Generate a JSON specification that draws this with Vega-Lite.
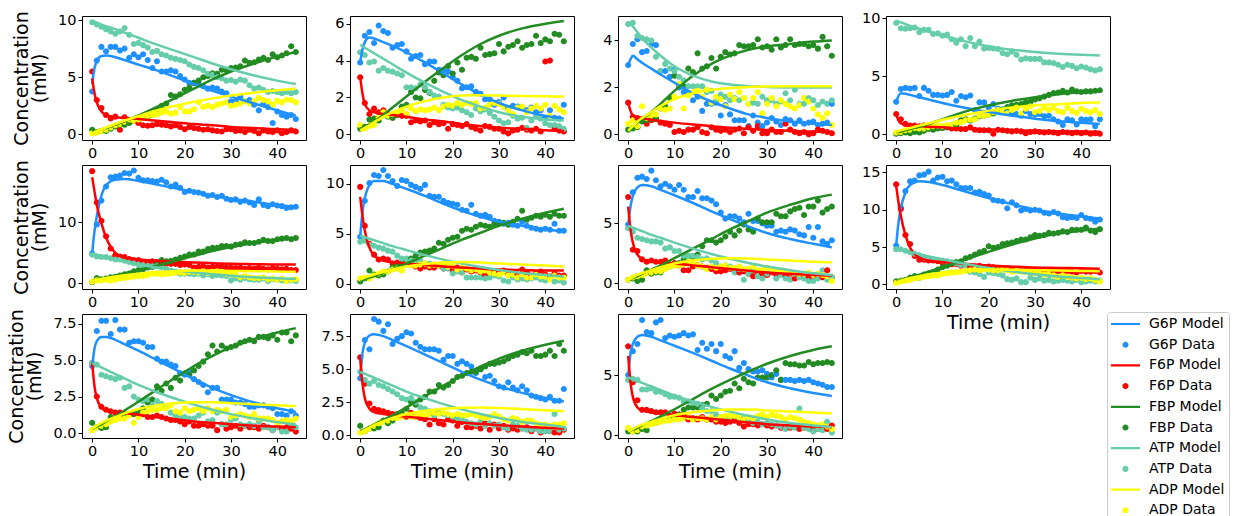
{
"$schema":"https://vega.github.io/schema/vega-lite/v6.json",
"padding":{"left":7,"top":9,"right":0,"bottom":0},
"datasets":{
"obs":[
{"p":1,"t":[0,1,2,3,4,5,6,7,8,9,10,11,12,13,14,15,16,17,18,19,20,21,22,23,24,25,26,27,28,29,30,31,32,33,34,35,36,37,38,39,40,41,42,43,44],
"G6P Data":[3.75,6.45,7.65,7.27,7.65,7.65,7.33,7.5,6.7,7.0,6.74,7.0,6.5,5.8,6.4,5.5,5.5,5.6,5.5,5.1,4.8,4.5,4.5,4.4,4.2,4.0,4.1,4.0,3.75,3.6,2.9,2.9,3.3,2.9,3.0,2.6,2.1,2.7,2.4,1.0,2.0,1.7,1.55,1.7,1.35],
"F6P Data":[5.5,3.0,2.3,1.7,1.4,1.55,0.4,1.5,1.2,1.2,1.0,0.8,0.75,0.8,0.9,0.85,0.8,0.7,0.8,0.65,0.45,0.65,0.55,0.5,0.4,0.45,0.35,0.3,0.25,0.45,0.45,0.3,0.35,0.2,0.4,0.3,0.1,0.35,0.25,0.2,0.35,0.1,0.2,0.35,0.25],
"FBP Data":[0.4,0.2,0.3,0.3,0.5,0.7,0.85,0.85,1.0,1.2,1.35,1.5,1.55,1.7,2.2,2.5,2.7,3.45,3.3,3.5,3.9,4.1,4.5,4.7,5.0,5.1,5.35,5.3,5.65,5.6,5.8,5.85,5.95,6.45,6.25,6.3,6.55,6.7,6.5,7.0,6.75,6.9,7.1,7.7,7.2],
"ATP Data":[9.8,9.6,9.4,9.2,9.0,8.8,9.0,9.3,8.7,7.9,8.0,7.8,7.6,7.2,7.3,7.0,6.9,6.7,6.6,6.5,6.4,6.1,5.9,5.8,5.6,5.3,5.2,5.0,4.9,4.7,4.75,4.6,4.8,4.7,4.3,4.0,4.1,3.9,3.7,3.8,3.7,3.6,3.7,3.6,3.7],
"ADP Data":[0.1,0.15,0.3,0.4,0.6,0.8,0.9,1.1,1.3,1.2,1.3,1.5,1.6,1.7,1.75,1.9,2.0,1.8,1.9,2.4,2.0,2.0,2.2,2.8,2.4,2.5,2.4,2.6,2.7,2.8,2.5,2.6,2.7,2.9,2.7,2.9,3.2,3.0,2.9,2.6,2.95,2.8,3.05,3.0,2.8]},
{"p":2,"t":[0,1,2,3,4,5,6,7,8,9,10,11,12,13,14,15,16,17,18,19,20,21,22,23,24,25,26,27,28,29,30,31,32,33,34,35,36,37,38,39,40,41,42,43,44],
"G6P Data":[3.9,5.35,5.55,4.95,5.9,5.6,5.5,4.7,4.85,4.9,4.5,4.1,4.25,4.3,3.8,3.95,3.95,3.5,3.5,3.4,3.1,2.9,2.5,2.55,2.6,2.3,2.2,1.9,1.9,1.6,1.75,2.0,1.4,1.55,1.5,1.45,1.3,1.45,1.2,1.3,0.9,1.3,0.9,0.85,1.6],
"F6P Data":[3.1,1.7,1.1,1.4,1.2,1.3,1.1,0.9,1.05,1.0,1.0,0.65,0.75,0.7,0.75,0.5,0.65,0.55,0.6,0.3,0.55,0.5,0.45,0.55,0.4,0.3,0.2,0.45,0.4,0.3,0.3,0.15,0.05,0.2,0.25,0.35,0.25,0.2,0.3,0.15,3.95,4.0,0.3,0.2,0.15],
"FBP Data":[0.3,0.4,0.8,0.85,0.75,1.2,0.95,0.9,1.05,1.5,1.6,2.3,2.0,1.95,2.4,2.25,2.9,3.35,3.2,3.7,3.3,3.9,3.5,4.15,4.2,4.1,4.7,4.3,4.35,4.4,4.9,4.5,4.75,4.85,5.05,4.7,4.85,4.9,5.35,4.95,5.15,5.05,5.45,5.4,5.05],
"ATP Data":[4.45,4.3,3.9,3.95,3.45,3.6,3.45,3.4,3.3,3.2,2.55,2.55,2.5,2.7,2.55,2.3,2.1,2.05,1.6,1.45,1.4,1.45,1.3,1.2,1.05,1.4,1.25,1.35,1.15,0.95,0.75,0.6,0.65,1.0,0.85,0.9,0.35,0.75,1.0,0.85,0.6,0.5,0.5,0.45,0.3],
"ADP Data":[0.5,0.3,0.45,0.5,0.9,1.2,1.0,1.1,1.2,1.3,1.1,1.4,1.25,1.35,1.3,1.35,1.45,1.3,1.5,1.6,1.55,1.7,1.6,1.7,1.65,1.7,1.4,1.45,1.6,1.7,1.65,1.5,1.3,1.1,1.45,1.5,1.2,1.4,1.55,1.4,1.6,1.0,1.55,1.35,1.2]},
{"p":3,"t":[0,1,2,3,4,5,6,7,8,9,10,11,12,13,14,15,16,17,18,19,20,21,22,23,24,25,26,27,28,29,30,31,32,33,34,35,36,37,38,39,40,41,42,43,44],
"G6P Data":[2.95,3.85,4.05,3.5,3.55,3.85,3.8,2.7,2.7,2.45,2.75,2.0,1.8,1.75,1.45,1.6,1.0,1.3,1.3,1.35,0.8,1.25,0.85,0.6,0.6,0.6,0.35,0.8,0.5,0.35,0.5,0.7,0.55,0.4,0.65,0.6,0.45,0.6,0.45,0.5,0.55,0.4,0.45,0.5,1.3],
"F6P Data":[1.35,0.75,0.7,0.65,0.45,0.6,0.65,0.5,0.45,0.4,0.1,0.15,0.1,0.2,0.2,0.3,0.1,0.05,0.3,0.2,0.15,0.2,0.1,0.2,0.25,0.05,0.3,0.15,0.35,0.05,0.05,0.2,0.1,0.1,0.45,0.2,0.1,0.05,0.1,0.0,0.05,0.2,0.15,0.1,0.05],
"FBP Data":[0.2,0.25,0.3,0.55,0.6,0.65,0.65,1.1,1.2,1.55,2.5,2.1,2.05,2.8,2.65,3.45,2.8,2.9,3.25,2.8,3.3,3.5,3.4,3.45,3.8,3.75,3.75,3.8,4.05,3.7,3.75,3.6,4.05,3.7,3.8,4.05,3.8,3.85,3.85,3.75,3.8,3.65,4.15,3.75,3.35],
"ATP Data":[4.7,4.75,4.2,4.1,4.05,4.0,3.3,2.7,3.0,2.8,2.7,2.45,2.3,2.05,2.05,2.05,2.05,1.8,1.85,1.45,1.7,1.6,1.45,1.55,1.45,1.55,1.3,1.35,1.3,1.6,1.45,1.45,1.3,1.4,1.75,1.45,1.9,1.3,1.3,1.55,1.45,1.25,1.4,1.3,1.45],
"ADP Data":[0.45,0.6,0.35,1.2,0.7,0.8,0.85,1.1,1.05,1.1,1.6,2.15,1.1,1.65,1.8,1.85,1.6,1.9,1.35,1.6,1.5,1.2,1.7,1.5,1.8,1.55,1.3,1.55,1.8,0.9,1.3,1.55,1.2,1.45,1.3,1.2,1.1,1.25,1.55,1.4,1.1,0.85,0.7,0.9,0.4]},
{"p":4,"t":[0,1,2,3,4,5,6,7,8,9,10,11,12,13,14,15,16,17,18,19,20,21,22,23,24,25,26,27,28,29,30,31,32,33,34,35,36,37,38,39,40,41,42,43,44],
"G6P Data":[2.8,3.9,4.0,3.95,4.0,3.3,4.0,3.75,3.4,3.4,3.35,3.4,3.65,2.9,3.3,3.2,3.35,2.1,2.75,2.75,2.3,2.6,2.2,2.15,2.0,1.8,1.75,1.6,2.0,1.75,1.7,1.75,1.55,1.6,1.3,1.1,0.8,1.3,1.2,0.85,1.3,1.25,1.3,0.7,1.3],
"F6P Data":[1.75,1.3,0.9,0.75,0.75,0.7,0.75,0.7,0.6,0.55,0.55,0.6,0.5,0.5,0.45,0.45,0.6,0.4,0.35,0.35,0.35,0.05,0.4,0.35,0.3,0.25,0.3,0.25,0.1,0.2,0.25,0.2,0.15,0.2,0.15,0.1,0.2,0.15,0.1,0.15,0.1,0.15,0.05,0.1,0.05],
"FBP Data":[0.05,0.1,0.15,0.1,0.2,0.15,0.3,0.45,0.4,0.5,0.55,0.65,0.7,0.75,1.2,1.3,1.2,1.35,1.55,1.6,1.7,1.8,2.0,2.1,2.35,2.5,2.55,2.6,2.75,2.8,3.0,3.1,3.25,3.4,3.55,3.6,3.75,3.6,3.85,3.7,3.65,3.7,3.7,3.75,3.8],
"ATP Data":[9.6,9.15,9.1,9.15,9.2,8.8,9.0,9.0,8.65,8.7,8.5,8.6,8.2,7.9,8.2,7.6,8.3,7.6,8.0,7.4,7.45,7.4,7.35,7.0,6.9,7.15,6.85,6.45,6.55,6.5,6.5,6.5,6.2,6.2,6.15,6.0,5.8,6.0,5.9,5.7,5.85,5.75,5.6,5.5,5.6],
"ADP Data":[0.15,0.2,0.35,0.4,0.55,0.5,0.5,0.6,0.7,0.75,0.7,0.8,0.85,1.0,1.05,1.2,1.25,1.3,1.6,1.6,1.7,1.9,2.1,2.05,1.8,2.1,2.3,1.8,2.2,2.4,1.9,2.0,2.3,2.1,2.3,2.0,1.9,2.3,2.0,1.85,2.2,2.0,1.9,2.1,1.75]},
{"p":5,"t":[0,1,2,3,4,5,6,7,8,9,10,11,12,13,14,15,16,17,18,19,20,21,22,23,24,25,26,27,28,29,30,31,32,33,34,35,36,37,38,39,40,41,42,43,44],
"G6P Data":[4.9,9.6,13.5,15.8,17.3,17.4,17.6,18.0,17.9,18.4,17.2,16.8,16.8,16.7,16.6,16.9,16.5,15.8,16.1,15.6,14.9,15.1,14.9,14.8,14.6,14.3,14.4,14.1,14.3,13.8,13.6,13.7,13.3,13.5,13.2,12.8,13.7,12.8,12.6,12.9,12.7,12.6,12.3,12.4,12.5],
"F6P Data":[18.3,13.2,10.2,7.7,5.7,4.6,4.4,4.3,4.0,3.8,3.8,3.5,3.5,3.6,3.5,3.4,3.2,3.2,3.2,3.0,3.1,3.0,2.6,2.7,2.8,2.6,2.7,2.7,2.7,2.6,2.6,2.5,2.6,2.4,2.5,2.4,2.6,2.4,2.3,2.5,2.4,2.3,2.4,2.2,2.2],
"FBP Data":[0.2,0.9,0.7,0.8,1.0,1.1,1.3,1.5,1.6,2.0,2.2,2.3,2.6,2.7,3.1,3.8,3.6,3.7,3.9,4.2,4.4,4.7,4.7,5.2,5.2,5.6,5.8,5.8,6.1,6.1,6.0,6.3,6.4,6.7,6.6,6.6,6.8,7.1,6.9,6.9,7.2,7.3,7.4,7.2,7.4],
"ATP Data":[4.7,4.4,4.3,4.3,4.1,3.9,3.9,3.7,3.5,3.3,3.1,3.0,2.9,2.8,2.8,2.6,2.4,2.1,1.8,1.6,1.6,1.6,1.5,1.6,1.3,1.5,1.2,1.4,1.3,1.2,0.5,0.8,0.6,0.9,0.7,0.6,0.6,0.8,0.4,0.7,0.6,0.5,0.4,0.5,0.4],
"ADP Data":[0.3,0.5,0.5,0.6,0.5,0.6,0.8,0.9,1.0,1.1,1.2,1.2,1.4,1.6,1.6,1.5,1.6,1.6,1.8,1.8,1.7,1.9,1.9,1.8,2.0,1.7,1.9,2.0,1.9,1.5,1.5,1.4,1.0,1.2,1.0,0.9,0.9,1.0,0.7,0.8,0.6,0.8,0.4,0.6,0.7]},
{"p":6,"t":[0,1,2,3,4,5,6,7,8,9,10,11,12,13,14,15,16,17,18,19,20,21,22,23,24,25,26,27,28,29,30,31,32,33,34,35,36,37,38,39,40,41,42,43,44],
"G6P Data":[4.7,8.3,10.1,10.9,10.8,11.4,10.8,10.3,9.8,10.4,10.3,9.9,9.7,9.5,9.9,8.8,8.7,8.7,8.3,8.1,8.0,7.9,7.4,7.3,7.9,7.0,6.8,6.9,6.7,6.3,6.2,6.0,6.1,5.9,5.8,6.2,5.8,5.6,5.5,5.4,5.5,5.4,6.0,5.3,5.3],
"F6P Data":[9.7,5.8,4.0,2.9,2.4,2.5,2.4,2.0,2.1,1.9,2.1,2.0,1.7,1.5,1.7,1.6,1.6,1.8,1.5,1.7,1.3,1.6,1.1,1.4,1.2,1.3,1.1,0.8,1.0,1.1,1.2,1.3,0.9,1.0,0.9,1.4,1.1,0.8,1.0,1.2,0.9,0.7,1.0,0.8,0.8],
"FBP Data":[0.2,0.5,1.3,0.9,0.8,0.9,1.2,1.6,1.8,2.0,2.1,2.5,2.8,3.1,3.2,3.3,3.5,4.1,4.0,4.4,4.6,4.7,5.3,5.5,5.4,5.7,5.9,5.8,5.7,6.0,6.1,6.1,5.9,6.2,6.5,7.3,6.4,6.6,6.8,6.7,6.9,6.7,7.0,6.8,6.8],
"ATP Data":[4.2,4.3,3.9,3.8,3.6,3.5,3.3,3.2,2.8,2.5,2.5,2.3,2.2,2.3,2.0,2.0,1.9,1.8,1.5,1.5,1.0,1.2,1.1,0.6,0.6,0.6,0.6,0.5,0.6,0.8,0.7,0.3,0.2,0.6,0.4,0.5,0.4,0.5,0.6,0.4,0.3,0.5,0.2,0.3,0.1],
"ADP Data":[0.5,0.6,0.5,0.8,1.0,1.2,1.2,1.4,1.5,1.3,1.9,1.8,1.8,1.9,2.0,1.8,1.9,1.8,2.0,1.7,1.8,1.4,1.6,1.5,1.3,1.4,1.2,1.3,1.1,1.0,0.9,1.1,0.8,0.9,0.6,0.9,0.6,0.6,0.9,0.7,0.7,0.4,0.8,0.6,0.6]},
{"p":7,"t":[0,1,2,3,4,5,6,7,8,9,10,11,12,13,14,15,16,17,18,19,20,21,22,23,24,25,26,27,28,29,30,31,32,33,34,35,36,37,38,39,40,41,42,43,44],
"G6P Data":[4.9,7.6,8.8,8.9,8.7,9.4,8.6,8.1,8.3,8.1,7.8,8.2,7.8,7.2,7.2,7.7,7.1,7.1,6.9,6.6,5.9,5.4,5.6,5.6,5.4,5.1,5.8,5.2,5.2,5.0,4.8,4.8,4.3,4.4,4.3,4.5,4.4,4.1,4.0,4.7,3.8,4.7,3.5,3.3,3.6],
"F6P Data":[7.2,2.8,2.7,2.0,1.8,1.9,1.8,1.8,1.9,1.6,1.7,1.5,1.1,1.1,1.4,1.5,1.4,1.3,1.2,1.0,1.0,1.1,1.2,1.1,0.9,1.0,0.8,0.6,0.9,0.8,0.7,0.9,0.7,0.8,0.6,0.8,0.4,0.7,0.5,0.6,0.4,0.6,0.5,1.1,0.5],
"FBP Data":[0.3,0.4,0.2,0.3,1.1,0.8,0.9,0.9,1.4,1.4,1.6,1.7,2.0,2.3,2.2,2.4,3.1,3.6,3.6,3.4,3.6,3.9,4.3,4.0,4.4,4.9,4.5,4.3,5.4,5.1,5.1,5.1,5.8,5.6,5.6,6.0,6.2,6.3,5.7,6.4,6.4,6.9,5.9,6.2,6.4],
"ATP Data":[4.6,4.3,3.8,3.7,3.6,3.5,3.5,3.4,2.9,3.0,2.7,2.7,2.3,2.3,2.3,2.2,2.0,2.1,1.9,1.7,1.4,1.5,1.4,0.9,1.2,0.3,0.8,1.1,0.6,0.4,0.8,1.0,0.4,0.7,0.4,0.3,0.8,0.5,0.4,0.2,0.2,0.4,1.1,0.3,0.5],
"ADP Data":[0.3,0.5,0.6,0.7,0.8,0.9,1.0,1.0,1.2,1.4,1.5,1.5,1.6,1.8,1.7,1.5,1.4,1.2,1.4,1.3,1.4,1.5,1.3,1.3,1.4,1.2,1.2,1.4,1.1,1.1,1.3,1.2,1.0,1.1,1.0,0.9,0.9,0.8,0.8,0.9,0.7,0.8,0.7,0.6,0.2]},
{"p":8,"t":[0,1,2,3,4,5,6,7,8,9,10,11,12,13,14,15,16,17,18,19,20,21,22,23,24,25,26,27,28,29,30,31,32,33,34,35,36,37,38,39,40,41,42,43,44],
"G6P Data":[5.2,10.3,12.5,13.8,13.9,14.6,14.7,15.1,13.9,14.3,14.4,13.8,13.9,13.4,12.9,12.9,12.9,12.3,12.4,12.1,11.9,11.3,11.2,11.1,10.2,11.0,10.6,9.9,10.1,9.9,10.0,9.9,9.6,9.5,9.7,9.5,9.0,8.9,9.0,8.9,9.3,8.9,8.8,8.4,8.7],
"F6P Data":[13.4,10.1,6.6,5.4,3.8,3.3,3.3,3.2,3.2,3.1,2.9,2.9,2.7,2.7,2.5,2.5,2.4,2.4,2.5,2.2,2.4,2.3,2.2,2.1,2.1,2.0,2.0,1.8,1.9,1.8,1.9,1.8,1.9,1.7,1.8,1.8,1.7,1.8,1.7,1.6,1.8,1.7,1.7,1.8,1.6],
"FBP Data":[0.4,0.5,0.6,0.9,1.1,0.9,1.3,1.5,1.6,2.0,2.3,2.5,2.8,3.0,3.1,3.5,3.7,4.0,4.3,4.5,5.1,4.9,5.0,5.4,5.5,5.6,5.8,6.0,6.0,6.3,6.6,6.5,6.6,6.9,6.8,6.9,7.1,7.0,7.3,7.3,7.3,7.6,7.2,7.0,7.4],
"ATP Data":[4.7,4.7,4.5,4.3,4.1,3.9,3.6,3.5,3.4,3.3,3.2,3.1,3.0,2.8,2.6,2.5,1.7,1.6,1.4,1.0,1.6,1.5,1.4,1.2,0.7,0.6,0.8,0.3,0.3,0.9,0.6,0.8,0.5,0.6,0.4,0.5,0.6,0.5,0.4,0.6,0.3,0.4,0.5,0.4,0.5],
"ADP Data":[0.2,0.4,0.5,0.6,0.8,0.9,1.0,1.1,1.2,1.2,1.4,1.5,1.6,1.6,1.7,1.8,1.9,2.0,1.9,2.0,2.0,1.9,1.9,2.0,1.9,1.7,1.8,1.7,1.7,1.6,1.5,1.6,1.3,1.4,1.2,1.0,1.2,1.0,0.9,0.8,0.9,0.7,0.8,0.6,0.4]},
{"p":9,"t":[0,1,2,3,4,5,6,7,8,9,10,11,12,13,14,15,16,17,18,19,20,21,22,23,24,25,26,27,28,29,30,31,32,33,34,35,36,37,38,39,40,41,42,43,44],
"G6P Data":[4.6,7.0,7.7,7.7,6.8,7.75,7.1,7.1,6.2,6.3,6.3,6.2,5.9,5.9,5.1,4.9,4.9,4.7,4.6,4.1,4.0,4.2,3.7,3.5,3.3,2.8,3.1,3.1,2.3,2.3,2.3,2.1,2.1,2.0,1.8,1.8,1.9,1.9,1.8,1.7,1.3,1.3,1.2,1.5,1.2],
"F6P Data":[4.8,2.5,1.8,1.6,1.5,1.4,1.4,1.3,1.3,1.3,1.2,1.3,1.1,1.1,1.2,1.1,1.0,0.9,0.9,0.8,0.6,0.8,0.5,0.5,0.6,0.5,0.5,0.2,0.6,0.3,0.4,0.5,0.3,0.5,0.4,0.4,0.3,0.5,0.4,0.2,0.4,0.3,0.4,0.3,0.1],
"FBP Data":[0.7,0.4,0.35,0.4,1.1,1.0,1.1,1.2,1.3,1.3,1.5,1.7,2.1,2.3,3.2,2.9,3.4,3.1,3.8,3.6,4.1,4.0,4.3,4.6,4.9,5.4,6.0,5.6,6.0,5.8,5.9,6.0,6.2,6.3,6.4,6.3,6.6,6.6,6.5,6.7,6.4,6.9,6.9,6.3,6.7],
"ATP Data":[4.8,4.7,4.0,3.9,3.8,3.7,3.8,3.1,3.2,2.5,2.3,2.2,2.3,1.9,2.2,2.0,1.8,1.4,1.2,1.1,1.1,1.0,1.0,1.2,1.4,0.8,0.9,1.4,0.6,0.6,0.9,1.0,0.6,0.5,0.6,0.5,0.8,0.4,0.4,0.2,0.4,0.1,0.1,0.5,0.4],
"ADP Data":[0.2,0.4,0.5,0.6,0.8,0.9,1.0,1.0,1.2,0.7,1.1,1.4,1.5,1.6,1.6,1.7,1.7,1.9,1.5,1.4,1.7,1.5,1.6,1.7,1.5,1.7,1.5,1.6,1.5,1.6,1.1,1.2,1.3,1.2,1.1,1.3,1.0,1.0,1.0,0.9,0.7,0.8,0.9,0.8,1.0]},
{"p":10,"t":[0,1,2,3,4,5,6,7,8,9,10,11,12,13,14,15,16,17,18,19,20,21,22,23,24,25,26,27,28,29,30,31,32,33,34,35,36,37,38,39,40,41,42,43,44],
"G6P Data":[4.3,7.2,6.5,8.8,8.6,7.9,8.4,6.9,7.3,7.5,7.8,7.7,7.0,6.7,6.5,6.5,6.5,6.4,5.7,6.0,6.0,5.4,5.6,5.4,5.2,4.7,5.0,4.4,4.5,4.1,3.7,3.6,4.0,3.6,3.4,3.7,3.4,3.0,2.9,2.8,2.7,2.9,2.6,2.6,3.5],
"F6P Data":[5.9,3.9,2.4,2.0,1.9,1.8,1.7,1.6,1.6,1.5,1.4,1.7,1.4,1.3,1.2,0.8,1.2,0.9,0.8,1.2,1.1,0.7,1.0,0.6,0.6,0.7,0.5,0.9,0.4,0.8,0.5,0.7,0.4,0.5,0.4,0.5,0.6,0.3,0.5,0.2,0.4,0.3,0.2,0.2,0.4],
"FBP Data":[0.7,0.3,0.5,0.5,0.6,1.1,0.9,1.1,1.5,1.7,2.0,2.5,2.3,2.7,2.9,3.3,3.3,3.8,3.6,3.8,4.1,4.4,4.5,4.7,4.8,4.8,5.0,5.2,5.4,5.4,5.5,5.6,5.8,6.0,6.1,6.3,6.2,6.4,6.0,6.0,6.1,6.4,6.0,6.9,6.4],
"ATP Data":[4.8,4.2,3.9,4.1,3.8,3.7,3.5,3.3,3.1,2.8,2.7,2.8,2.5,2.1,2.0,1.8,1.5,1.7,1.6,1.5,1.4,1.3,1.2,1.0,0.9,0.8,1.0,0.7,0.9,0.7,0.8,0.6,0.5,0.8,0.7,0.5,0.4,0.4,0.5,0.3,0.3,0.3,1.6,0.4,0.5],
"ADP Data":[0.2,0.3,0.5,0.7,0.9,1.0,1.1,1.3,1.3,1.4,1.5,1.4,1.4,1.6,1.5,1.6,1.7,1.6,1.7,1.6,1.5,1.6,1.5,1.5,1.6,1.5,1.4,1.3,1.4,1.6,1.4,1.2,1.1,1.3,1.2,1.0,1.1,1.1,0.9,0.8,0.8,0.7,0.8,0.8,0.9]},
{"p":11,"t":[0,1,2,3,4,5,6,7,8,9,10,11,12,13,14,15,16,17,18,19,20,21,22,23,24,25,26,27,28,29,30,31,32,33,34,35,36,37,38,39,40,41,42,43,44],
"G6P Data":[5.0,7.0,7.6,9.6,8.6,8.5,9.4,9.6,8.1,8.3,8.2,8.3,8.5,8.3,8.4,7.1,7.7,7.2,7.6,7.0,7.6,6.6,6.4,7.0,5.6,6.0,5.5,5.3,5.3,5.4,5.1,4.8,5.1,4.6,4.6,4.6,4.5,4.6,4.5,4.6,4.4,4.3,4.2,4.0,4.0],
"F6P Data":[7.4,4.4,2.9,2.1,2.1,2.0,1.9,1.9,1.9,1.6,1.8,1.7,1.7,1.3,1.4,1.3,1.5,1.3,1.3,1.1,1.1,1.0,1.1,1.2,1.0,0.7,0.9,0.9,0.8,0.9,0.8,0.7,0.8,0.6,0.6,0.6,0.7,0.5,0.6,0.6,0.4,0.5,0.6,0.5,0.8],
"FBP Data":[0.3,0.3,0.3,0.5,0.4,1.0,1.0,1.2,1.3,1.5,1.5,1.7,2.1,2.3,2.3,2.3,2.5,2.6,3.3,3.0,3.3,3.6,3.7,4.3,3.9,4.7,4.4,4.3,4.8,4.8,4.8,5.0,5.4,4.6,6.0,5.9,5.9,5.8,5.8,6.1,5.9,6.0,6.0,6.1,6.0],
"ATP Data":[4.6,4.7,4.6,3.8,3.8,3.9,3.6,3.6,3.4,3.2,3.2,3.1,2.8,2.8,2.7,2.6,2.2,2.0,2.0,1.7,1.5,1.5,1.4,1.6,1.4,1.4,1.2,1.0,1.1,0.9,1.0,0.9,0.8,0.7,0.5,0.7,0.6,2.2,0.6,0.5,0.3,0.5,0.4,1.1,0.2],
"ADP Data":[0.6,0.3,0.4,0.7,0.8,0.9,1.0,1.1,1.2,1.2,1.3,1.3,1.4,1.5,1.3,1.4,1.4,1.3,1.5,1.3,1.5,1.6,1.6,1.6,1.5,1.3,1.5,1.4,1.6,1.7,1.5,1.7,1.6,1.5,1.3,1.5,1.4,1.3,1.1,1.0,0.9,0.8,0.9,0.7,0.5]}
],
"mod":[
{"p":1,"t":[0,0.5,1,2,3,5,7,10,14,18,22,26,30,35,40,44],"G6P Model":[4.4,5.8,6.4,6.85,6.9,6.75,6.5,6.1,5.6,5.0,4.4,3.8,3.3,2.7,2.1,1.65],"F6P Model":[4.9,3.6,2.8,2.0,1.7,1.5,1.45,1.35,1.2,1.05,0.9,0.8,0.65,0.55,0.45,0.4],"FBP Model":[0.3,0.32,0.35,0.45,0.55,0.85,1.15,1.65,2.4,3.2,4.0,4.8,5.5,6.2,6.8,7.2],"ATP Model":[9.9,9.85,9.75,9.6,9.45,9.2,8.9,8.45,7.85,7.3,6.75,6.2,5.7,5.15,4.7,4.4],"ADP Model":[0.1,0.2,0.3,0.45,0.6,0.9,1.2,1.6,2.1,2.5,2.85,3.15,3.4,3.65,3.85,4.0]},
{"p":2,"t":[0,0.5,1,2,3,5,7,10,14,18,22,26,30,35,40,44],"G6P Model":[3.9,4.6,5.0,5.25,5.2,5.0,4.8,4.45,3.9,3.3,2.7,2.15,1.7,1.3,1.0,0.85],"F6P Model":[3.1,2.2,1.65,1.3,1.2,1.1,1.05,0.95,0.8,0.7,0.55,0.45,0.35,0.3,0.22,0.18],"FBP Model":[0.3,0.35,0.4,0.55,0.7,1.05,1.45,2.05,2.85,3.6,4.3,4.9,5.35,5.75,6.0,6.15],"ATP Model":[4.85,4.78,4.7,4.55,4.4,4.1,3.8,3.35,2.8,2.3,1.85,1.5,1.2,0.95,0.8,0.75],"ADP Model":[0.2,0.28,0.35,0.5,0.65,0.95,1.2,1.5,1.8,2.0,2.1,2.12,2.1,2.08,2.06,2.05]},
{"p":3,"t":[0,0.5,1,2,3,5,7,10,14,18,22,26,30,35,40,44],"G6P Model":[2.95,3.2,3.35,3.2,3.05,2.8,2.55,2.2,1.75,1.4,1.1,0.85,0.7,0.55,0.45,0.4],"F6P Model":[1.35,1.0,0.8,0.72,0.68,0.62,0.57,0.5,0.42,0.35,0.28,0.23,0.19,0.15,0.12,0.1],"FBP Model":[0.2,0.27,0.35,0.5,0.65,0.95,1.3,1.85,2.5,3.0,3.35,3.6,3.75,3.85,3.95,4.0],"ATP Model":[4.75,4.68,4.6,4.35,4.1,3.7,3.35,2.9,2.5,2.25,2.12,2.05,2.02,2.0,2.0,2.0],"ADP Model":[0.15,0.25,0.35,0.55,0.7,0.95,1.2,1.5,1.75,1.9,1.97,2.02,2.04,2.05,2.05,2.05]},
{"p":4,"t":[0,0.5,1,2,3,5,7,10,14,18,22,26,30,35,40,44],"G6P Model":[2.75,3.3,3.55,3.5,3.4,3.2,3.0,2.7,2.35,2.05,1.8,1.55,1.35,1.15,1.0,0.9],"F6P Model":[1.75,1.2,0.95,0.8,0.75,0.7,0.65,0.6,0.5,0.45,0.4,0.35,0.3,0.27,0.24,0.22],"FBP Model":[0.2,0.22,0.25,0.35,0.45,0.65,0.9,1.3,1.85,2.3,2.65,2.95,3.2,3.45,3.65,3.75],"ATP Model":[9.8,9.72,9.65,9.5,9.35,9.1,8.85,8.5,8.1,7.75,7.45,7.25,7.1,6.95,6.85,6.8],"ADP Model":[0.2,0.28,0.35,0.45,0.55,0.75,0.95,1.25,1.6,1.9,2.15,2.35,2.5,2.6,2.7,2.75]},
{"p":5,"t":[0,0.5,1,2,3,5,7,10,14,18,22,26,30,35,40,44],"G6P Model":[5.0,8.5,11.0,14.3,16.0,16.9,17.0,16.7,16.1,15.5,14.9,14.3,13.8,13.3,12.8,12.5],"F6P Model":[17.3,15.0,12.8,9.8,7.5,5.0,4.2,3.9,3.7,3.55,3.4,3.3,3.2,3.15,3.1,3.1],"FBP Model":[0.4,0.5,0.6,0.8,0.95,1.3,1.65,2.2,2.9,3.7,4.5,5.3,5.95,6.6,7.1,7.5],"ATP Model":[4.9,4.8,4.7,4.5,4.3,3.9,3.55,3.1,2.6,2.15,1.8,1.5,1.25,1.0,0.85,0.75],"ADP Model":[0.4,0.5,0.6,0.75,0.9,1.15,1.35,1.6,1.85,2.0,2.1,2.1,2.05,2.0,1.95,1.9]},
{"p":6,"t":[0,0.5,1,2,3,5,7,10,14,18,22,26,30,35,40,44],"G6P Model":[4.7,7.2,8.6,9.9,10.3,10.3,10.0,9.5,8.8,8.0,7.3,6.7,6.2,5.8,5.45,5.2],"F6P Model":[8.7,6.8,5.3,3.6,2.8,2.3,2.15,2.0,1.85,1.7,1.6,1.5,1.4,1.35,1.3,1.3],"FBP Model":[0.3,0.38,0.45,0.6,0.75,1.1,1.45,2.0,2.8,3.6,4.4,5.1,5.8,6.5,7.1,7.5],"ATP Model":[4.8,4.72,4.65,4.5,4.35,4.05,3.75,3.35,2.85,2.4,2.0,1.65,1.35,1.05,0.85,0.7],"ADP Model":[0.4,0.5,0.6,0.75,0.9,1.15,1.4,1.7,1.95,2.1,2.15,2.1,2.0,1.9,1.8,1.7]},
{"p":7,"t":[0,0.5,1,2,3,5,7,10,14,18,22,26,30,35,40,44],"G6P Model":[4.8,6.4,7.3,8.0,8.2,8.1,7.8,7.35,6.7,6.0,5.35,4.75,4.2,3.7,3.3,3.0],"F6P Model":[6.4,4.5,3.4,2.4,2.05,1.85,1.75,1.65,1.5,1.35,1.2,1.05,0.9,0.8,0.7,0.65],"FBP Model":[0.3,0.38,0.45,0.6,0.8,1.15,1.5,2.1,2.9,3.7,4.5,5.2,5.9,6.55,7.1,7.4],"ATP Model":[4.8,4.72,4.65,4.5,4.35,4.05,3.8,3.4,2.9,2.45,2.05,1.7,1.4,1.1,0.85,0.7],"ADP Model":[0.3,0.4,0.5,0.7,0.85,1.1,1.35,1.65,1.9,2.05,2.1,2.08,2.0,1.9,1.8,1.75]},
{"p":8,"t":[0,0.5,1,2,3,5,7,10,14,18,22,26,30,35,40,44],"G6P Model":[5.2,8.3,10.2,12.3,13.3,13.8,13.7,13.3,12.6,11.9,11.2,10.6,10.0,9.5,9.1,8.8],"F6P Model":[13.2,11.0,9.2,6.6,4.9,3.6,3.2,3.0,2.8,2.6,2.45,2.35,2.25,2.2,2.15,2.1],"FBP Model":[0.4,0.48,0.55,0.75,0.95,1.3,1.7,2.3,3.1,3.95,4.75,5.5,6.15,6.8,7.2,7.45],"ATP Model":[4.8,4.72,4.65,4.5,4.35,4.05,3.75,3.35,2.85,2.4,2.0,1.65,1.35,1.05,0.85,0.7],"ADP Model":[0.3,0.4,0.5,0.7,0.85,1.1,1.35,1.6,1.85,2.0,2.0,1.95,1.9,1.85,1.8,1.75]},
{"p":9,"t":[0,0.5,1,2,3,5,7,10,14,18,22,26,30,35,40,44],"G6P Model":[4.5,5.8,6.3,6.6,6.6,6.4,6.1,5.65,5.0,4.35,3.7,3.1,2.6,2.1,1.7,1.45],"F6P Model":[4.8,3.2,2.4,1.75,1.55,1.45,1.38,1.25,1.1,0.95,0.8,0.7,0.6,0.5,0.45,0.4],"FBP Model":[0.3,0.38,0.45,0.6,0.8,1.15,1.55,2.15,3.0,3.8,4.6,5.3,5.9,6.45,6.9,7.2],"ATP Model":[4.8,4.72,4.65,4.5,4.35,4.05,3.75,3.3,2.8,2.35,1.95,1.6,1.3,1.0,0.75,0.6],"ADP Model":[0.3,0.4,0.5,0.7,0.85,1.1,1.35,1.65,1.9,2.05,2.12,2.12,2.05,1.98,1.9,1.85]},
{"p":10,"t":[0,0.5,1,2,3,5,7,10,14,18,22,26,30,35,40,44],"G6P Model":[4.3,6.2,7.0,7.55,7.65,7.5,7.2,6.75,6.1,5.45,4.8,4.2,3.7,3.2,2.8,2.55],"F6P Model":[5.8,3.9,2.8,2.0,1.75,1.6,1.5,1.4,1.25,1.1,0.95,0.85,0.75,0.65,0.55,0.5],"FBP Model":[0.3,0.38,0.45,0.6,0.8,1.15,1.5,2.1,2.95,3.75,4.5,5.2,5.8,6.4,6.85,7.15],"ATP Model":[4.8,4.72,4.65,4.5,4.35,4.05,3.75,3.3,2.8,2.35,1.95,1.6,1.3,1.0,0.8,0.6],"ADP Model":[0.2,0.3,0.4,0.55,0.75,1.05,1.3,1.6,1.85,2.0,2.08,2.1,2.05,1.98,1.88,1.8]},
{"p":11,"t":[0,0.5,1,2,3,5,7,10,14,18,22,26,30,35,40,44],"G6P Model":[4.9,6.8,7.6,8.2,8.35,8.2,7.9,7.45,6.85,6.2,5.55,4.95,4.4,3.9,3.5,3.25],"F6P Model":[6.6,4.4,3.2,2.3,2.05,1.9,1.8,1.65,1.5,1.35,1.2,1.05,0.9,0.8,0.7,0.65],"FBP Model":[0.3,0.38,0.45,0.6,0.8,1.15,1.55,2.15,3.0,3.85,4.6,5.3,5.95,6.6,7.1,7.4],"ATP Model":[4.8,4.72,4.65,4.5,4.35,4.05,3.75,3.3,2.8,2.35,1.95,1.6,1.3,1.0,0.8,0.65],"ADP Model":[0.3,0.4,0.5,0.7,0.85,1.1,1.35,1.65,1.9,2.05,2.12,2.12,2.05,1.97,1.88,1.8]}
]
},
"columns":4,
"spacing":{"row":25,"column":44},
"bounds":"flush",
"resolve":{"scale":{"x":"independent","y":"independent","color":"shared","shape":"shared"},"axis":{"x":"independent","y":"independent"}},
"concat":[
{"width":224,"height":124,"layer":[
{"data":{"name":"obs"},"transform":[{"filter":"datum.p==1"},{"flatten":["t","G6P Data","F6P Data","FBP Data","ATP Data","ADP Data"]},{"fold":["G6P Data","F6P Data","FBP Data","ATP Data","ADP Data"],"as":["s","v"]}],
"mark":{"type":"point","filled":true,"size":841,"opacity":1,"strokeWidth":0},
"encoding":{"x":{"field":"t","type":"quantitative","scale":{"domain":[-2.2,46.2],"nice":false,"zero":false},"axis":{"values":[0,10,20,30,40],"title":null}},
"y":{"field":"v","type":"quantitative","scale":{"domain":[-0.49,10.35],"nice":false,"zero":false},"axis":{"values":[0,5,10],"title":["Concentration","(mM)"]}},
"color":{"field":"s","type":"nominal","scale":{"domain":["G6P Model","G6P Data","F6P Model","F6P Data","FBP Model","FBP Data","ATP Model","ATP Data","ADP Model","ADP Data"],"range":["#1e90ff","#1e90ff","#ff0000","#ff0000","#228b22","#228b22","#66cdaa","#66cdaa","#ffff00","#ffff00"]},"legend":{"title":null}},
"shape":{"field":"s","type":"nominal","scale":{"domain":["G6P Model","G6P Data","F6P Model","F6P Data","FBP Model","FBP Data","ATP Model","ATP Data","ADP Model","ADP Data"],"range":["M-1,-0.075L1,-0.075L1,0.075L-1,0.075Z","M0.21,0A0.21,0.21,0,1,1,-0.21,0A0.21,0.21,0,1,1,0.21,0Z","M-1,-0.075L1,-0.075L1,0.075L-1,0.075Z","M0.21,0A0.21,0.21,0,1,1,-0.21,0A0.21,0.21,0,1,1,0.21,0Z","M-1,-0.075L1,-0.075L1,0.075L-1,0.075Z","M0.21,0A0.21,0.21,0,1,1,-0.21,0A0.21,0.21,0,1,1,0.21,0Z","M-1,-0.075L1,-0.075L1,0.075L-1,0.075Z","M0.21,0A0.21,0.21,0,1,1,-0.21,0A0.21,0.21,0,1,1,0.21,0Z","M-1,-0.075L1,-0.075L1,0.075L-1,0.075Z","M0.21,0A0.21,0.21,0,1,1,-0.21,0A0.21,0.21,0,1,1,0.21,0Z"]},"legend":{"title":null}}}},
{"data":{"name":"mod"},"transform":[{"filter":"datum.p==1"},{"flatten":["t","G6P Model","F6P Model","FBP Model","ATP Model","ADP Model"]},{"fold":["G6P Model","F6P Model","FBP Model","ATP Model","ADP Model"],"as":["s","v"]}],
"mark":{"type":"line","strokeWidth":2.5,"interpolate":"monotone"},
"encoding":{"x":{"field":"t","type":"quantitative"},"y":{"field":"v","type":"quantitative"},"color":{"field":"s","type":"nominal"}}}]},
{"width":224,"height":124,"layer":[
{"data":{"name":"obs"},"transform":[{"filter":"datum.p==2"},{"flatten":["t","G6P Data","F6P Data","FBP Data","ATP Data","ADP Data"]},{"fold":["G6P Data","F6P Data","FBP Data","ATP Data","ADP Data"],"as":["s","v"]}],
"mark":{"type":"point","filled":true,"size":841,"opacity":1,"strokeWidth":0},
"encoding":{"x":{"field":"t","type":"quantitative","scale":{"domain":[-2.2,46.2],"nice":false,"zero":false},"axis":{"values":[0,10,20,30,40],"title":null}},
"y":{"field":"v","type":"quantitative","scale":{"domain":[-0.31,6.42],"nice":false,"zero":false},"axis":{"values":[0,2,4,6],"title":null}},
"color":{"field":"s","type":"nominal"},"shape":{"field":"s","type":"nominal"}}},
{"data":{"name":"mod"},"transform":[{"filter":"datum.p==2"},{"flatten":["t","G6P Model","F6P Model","FBP Model","ATP Model","ADP Model"]},{"fold":["G6P Model","F6P Model","FBP Model","ATP Model","ADP Model"],"as":["s","v"]}],
"mark":{"type":"line","strokeWidth":2.5,"interpolate":"monotone"},
"encoding":{"x":{"field":"t","type":"quantitative"},"y":{"field":"v","type":"quantitative"},"color":{"field":"s","type":"nominal"}}}]},
{"width":224,"height":124,"layer":[
{"data":{"name":"obs"},"transform":[{"filter":"datum.p==3"},{"flatten":["t","G6P Data","F6P Data","FBP Data","ATP Data","ADP Data"]},{"fold":["G6P Data","F6P Data","FBP Data","ATP Data","ADP Data"],"as":["s","v"]}],
"mark":{"type":"point","filled":true,"size":841,"opacity":1,"strokeWidth":0},
"encoding":{"x":{"field":"t","type":"quantitative","scale":{"domain":[-2.2,46.2],"nice":false,"zero":false},"axis":{"values":[0,10,20,30,40],"title":null}},
"y":{"field":"v","type":"quantitative","scale":{"domain":[-0.24,5.04],"nice":false,"zero":false},"axis":{"values":[0,2,4],"title":null}},
"color":{"field":"s","type":"nominal"},"shape":{"field":"s","type":"nominal"}}},
{"data":{"name":"mod"},"transform":[{"filter":"datum.p==3"},{"flatten":["t","G6P Model","F6P Model","FBP Model","ATP Model","ADP Model"]},{"fold":["G6P Model","F6P Model","FBP Model","ATP Model","ADP Model"],"as":["s","v"]}],
"mark":{"type":"line","strokeWidth":2.5,"interpolate":"monotone"},
"encoding":{"x":{"field":"t","type":"quantitative"},"y":{"field":"v","type":"quantitative"},"color":{"field":"s","type":"nominal"}}}]},
{"width":224,"height":124,"layer":[
{"data":{"name":"obs"},"transform":[{"filter":"datum.p==4"},{"flatten":["t","G6P Data","F6P Data","FBP Data","ATP Data","ADP Data"]},{"fold":["G6P Data","F6P Data","FBP Data","ATP Data","ADP Data"],"as":["s","v"]}],
"mark":{"type":"point","filled":true,"size":841,"opacity":1,"strokeWidth":0},
"encoding":{"x":{"field":"t","type":"quantitative","scale":{"domain":[-2.2,46.2],"nice":false,"zero":false},"axis":{"values":[0,10,20,30,40],"title":null}},
"y":{"field":"v","type":"quantitative","scale":{"domain":[-0.49,10.2],"nice":false,"zero":false},"axis":{"values":[0,5,10],"title":null}},
"color":{"field":"s","type":"nominal"},"shape":{"field":"s","type":"nominal"}}},
{"data":{"name":"mod"},"transform":[{"filter":"datum.p==4"},{"flatten":["t","G6P Model","F6P Model","FBP Model","ATP Model","ADP Model"]},{"fold":["G6P Model","F6P Model","FBP Model","ATP Model","ADP Model"],"as":["s","v"]}],
"mark":{"type":"line","strokeWidth":2.5,"interpolate":"monotone"},
"encoding":{"x":{"field":"t","type":"quantitative"},"y":{"field":"v","type":"quantitative"},"color":{"field":"s","type":"nominal"}}}]},
{"width":224,"height":124,"layer":[
{"data":{"name":"obs"},"transform":[{"filter":"datum.p==5"},{"flatten":["t","G6P Data","F6P Data","FBP Data","ATP Data","ADP Data"]},{"fold":["G6P Data","F6P Data","FBP Data","ATP Data","ADP Data"],"as":["s","v"]}],
"mark":{"type":"point","filled":true,"size":841,"opacity":1,"strokeWidth":0},
"encoding":{"x":{"field":"t","type":"quantitative","scale":{"domain":[-2.2,46.2],"nice":false,"zero":false},"axis":{"values":[0,10,20,30,40],"title":null}},
"y":{"field":"v","type":"quantitative","scale":{"domain":[-0.9,19.3],"nice":false,"zero":false},"axis":{"values":[0,10],"title":["Concentration","(mM)"]}},
"color":{"field":"s","type":"nominal"},"shape":{"field":"s","type":"nominal"}}},
{"data":{"name":"mod"},"transform":[{"filter":"datum.p==5"},{"flatten":["t","G6P Model","F6P Model","FBP Model","ATP Model","ADP Model"]},{"fold":["G6P Model","F6P Model","FBP Model","ATP Model","ADP Model"],"as":["s","v"]}],
"mark":{"type":"line","strokeWidth":2.5,"interpolate":"monotone"},
"encoding":{"x":{"field":"t","type":"quantitative"},"y":{"field":"v","type":"quantitative"},"color":{"field":"s","type":"nominal"}}}]},
{"width":224,"height":124,"layer":[
{"data":{"name":"obs"},"transform":[{"filter":"datum.p==6"},{"flatten":["t","G6P Data","F6P Data","FBP Data","ATP Data","ADP Data"]},{"fold":["G6P Data","F6P Data","FBP Data","ATP Data","ADP Data"],"as":["s","v"]}],
"mark":{"type":"point","filled":true,"size":841,"opacity":1,"strokeWidth":0},
"encoding":{"x":{"field":"t","type":"quantitative","scale":{"domain":[-2.2,46.2],"nice":false,"zero":false},"axis":{"values":[0,10,20,30,40],"title":null}},
"y":{"field":"v","type":"quantitative","scale":{"domain":[-0.55,11.9],"nice":false,"zero":false},"axis":{"values":[0,5,10],"title":null}},
"color":{"field":"s","type":"nominal"},"shape":{"field":"s","type":"nominal"}}},
{"data":{"name":"mod"},"transform":[{"filter":"datum.p==6"},{"flatten":["t","G6P Model","F6P Model","FBP Model","ATP Model","ADP Model"]},{"fold":["G6P Model","F6P Model","FBP Model","ATP Model","ADP Model"],"as":["s","v"]}],
"mark":{"type":"line","strokeWidth":2.5,"interpolate":"monotone"},
"encoding":{"x":{"field":"t","type":"quantitative"},"y":{"field":"v","type":"quantitative"},"color":{"field":"s","type":"nominal"}}}]},
{"width":224,"height":124,"layer":[
{"data":{"name":"obs"},"transform":[{"filter":"datum.p==7"},{"flatten":["t","G6P Data","F6P Data","FBP Data","ATP Data","ADP Data"]},{"fold":["G6P Data","F6P Data","FBP Data","ATP Data","ADP Data"],"as":["s","v"]}],
"mark":{"type":"point","filled":true,"size":841,"opacity":1,"strokeWidth":0},
"encoding":{"x":{"field":"t","type":"quantitative","scale":{"domain":[-2.2,46.2],"nice":false,"zero":false},"axis":{"values":[0,10,20,30,40],"title":null}},
"y":{"field":"v","type":"quantitative","scale":{"domain":[-0.47,9.87],"nice":false,"zero":false},"axis":{"values":[0,5],"title":null}},
"color":{"field":"s","type":"nominal"},"shape":{"field":"s","type":"nominal"}}},
{"data":{"name":"mod"},"transform":[{"filter":"datum.p==7"},{"flatten":["t","G6P Model","F6P Model","FBP Model","ATP Model","ADP Model"]},{"fold":["G6P Model","F6P Model","FBP Model","ATP Model","ADP Model"],"as":["s","v"]}],
"mark":{"type":"line","strokeWidth":2.5,"interpolate":"monotone"},
"encoding":{"x":{"field":"t","type":"quantitative"},"y":{"field":"v","type":"quantitative"},"color":{"field":"s","type":"nominal"}}}]},
{"width":224,"height":124,"layer":[
{"data":{"name":"obs"},"transform":[{"filter":"datum.p==8"},{"flatten":["t","G6P Data","F6P Data","FBP Data","ATP Data","ADP Data"]},{"fold":["G6P Data","F6P Data","FBP Data","ATP Data","ADP Data"],"as":["s","v"]}],
"mark":{"type":"point","filled":true,"size":841,"opacity":1,"strokeWidth":0},
"encoding":{"x":{"field":"t","type":"quantitative","scale":{"domain":[-2.2,46.2],"nice":false,"zero":false},"axis":{"values":[0,10,20,30,40],"title":"Time (min)"}},
"y":{"field":"v","type":"quantitative","scale":{"domain":[-0.62,15.99],"nice":false,"zero":false},"axis":{"values":[0,5,10,15],"title":null}},
"color":{"field":"s","type":"nominal"},"shape":{"field":"s","type":"nominal"}}},
{"data":{"name":"mod"},"transform":[{"filter":"datum.p==8"},{"flatten":["t","G6P Model","F6P Model","FBP Model","ATP Model","ADP Model"]},{"fold":["G6P Model","F6P Model","FBP Model","ATP Model","ADP Model"],"as":["s","v"]}],
"mark":{"type":"line","strokeWidth":2.5,"interpolate":"monotone"},
"encoding":{"x":{"field":"t","type":"quantitative"},"y":{"field":"v","type":"quantitative"},"color":{"field":"s","type":"nominal"}}}]},
{"width":224,"height":124,"layer":[
{"data":{"name":"obs"},"transform":[{"filter":"datum.p==9"},{"flatten":["t","G6P Data","F6P Data","FBP Data","ATP Data","ADP Data"]},{"fold":["G6P Data","F6P Data","FBP Data","ATP Data","ADP Data"],"as":["s","v"]}],
"mark":{"type":"point","filled":true,"size":841,"opacity":1,"strokeWidth":0},
"encoding":{"x":{"field":"t","type":"quantitative","scale":{"domain":[-2.2,46.2],"nice":false,"zero":false},"axis":{"values":[0,10,20,30,40],"title":"Time (min)"}},
"y":{"field":"v","type":"quantitative","scale":{"domain":[-0.34,8.17],"nice":false,"zero":false},"axis":{"values":[0,2.5,5,7.5],"format":".1f","title":["Concentration","(mM)"]}},
"color":{"field":"s","type":"nominal"},"shape":{"field":"s","type":"nominal"}}},
{"data":{"name":"mod"},"transform":[{"filter":"datum.p==9"},{"flatten":["t","G6P Model","F6P Model","FBP Model","ATP Model","ADP Model"]},{"fold":["G6P Model","F6P Model","FBP Model","ATP Model","ADP Model"],"as":["s","v"]}],
"mark":{"type":"line","strokeWidth":2.5,"interpolate":"monotone"},
"encoding":{"x":{"field":"t","type":"quantitative"},"y":{"field":"v","type":"quantitative"},"color":{"field":"s","type":"nominal"}}}]},
{"width":224,"height":124,"layer":[
{"data":{"name":"obs"},"transform":[{"filter":"datum.p==10"},{"flatten":["t","G6P Data","F6P Data","FBP Data","ATP Data","ADP Data"]},{"fold":["G6P Data","F6P Data","FBP Data","ATP Data","ADP Data"],"as":["s","v"]}],
"mark":{"type":"point","filled":true,"size":841,"opacity":1,"strokeWidth":0},
"encoding":{"x":{"field":"t","type":"quantitative","scale":{"domain":[-2.2,46.2],"nice":false,"zero":false},"axis":{"values":[0,10,20,30,40],"title":"Time (min)"}},
"y":{"field":"v","type":"quantitative","scale":{"domain":[-0.22,9.18],"nice":false,"zero":false},"axis":{"values":[0,2.5,5,7.5],"format":".1f","title":null}},
"color":{"field":"s","type":"nominal"},"shape":{"field":"s","type":"nominal"}}},
{"data":{"name":"mod"},"transform":[{"filter":"datum.p==10"},{"flatten":["t","G6P Model","F6P Model","FBP Model","ATP Model","ADP Model"]},{"fold":["G6P Model","F6P Model","FBP Model","ATP Model","ADP Model"],"as":["s","v"]}],
"mark":{"type":"line","strokeWidth":2.5,"interpolate":"monotone"},
"encoding":{"x":{"field":"t","type":"quantitative"},"y":{"field":"v","type":"quantitative"},"color":{"field":"s","type":"nominal"}}}]},
{"width":224,"height":124,"layer":[
{"data":{"name":"obs"},"transform":[{"filter":"datum.p==11"},{"flatten":["t","G6P Data","F6P Data","FBP Data","ATP Data","ADP Data"]},{"fold":["G6P Data","F6P Data","FBP Data","ATP Data","ADP Data"],"as":["s","v"]}],
"mark":{"type":"point","filled":true,"size":841,"opacity":1,"strokeWidth":0},
"encoding":{"x":{"field":"t","type":"quantitative","scale":{"domain":[-2.2,46.2],"nice":false,"zero":false},"axis":{"values":[0,10,20,30,40],"title":"Time (min)"}},
"y":{"field":"v","type":"quantitative","scale":{"domain":[-0.25,10.1],"nice":false,"zero":false},"axis":{"values":[0,5],"title":null}},
"color":{"field":"s","type":"nominal"},"shape":{"field":"s","type":"nominal"}}},
{"data":{"name":"mod"},"transform":[{"filter":"datum.p==11"},{"flatten":["t","G6P Model","F6P Model","FBP Model","ATP Model","ADP Model"]},{"fold":["G6P Model","F6P Model","FBP Model","ATP Model","ADP Model"],"as":["s","v"]}],
"mark":{"type":"line","strokeWidth":2.5,"interpolate":"monotone"},
"encoding":{"x":{"field":"t","type":"quantitative"},"y":{"field":"v","type":"quantitative"},"color":{"field":"s","type":"nominal"}}}]}
],
"config":{
"font":"DejaVu Sans",
"view":{"stroke":"#000000","strokeWidth":1},
"axis":{"grid":false,"domain":false,"ticks":true,"tickColor":"#000000","tickSize":4,"labelFontSize":14.5,"labelColor":"#000000","labelFont":"DejaVu Sans","labelPadding":2,"titleFont":"DejaVu Sans","titleFontSize":19,"titleFontWeight":"normal","titleColor":"#000000"},
"axisX":{"titlePadding":5,"labelFlush":false},
"axisY":{"titlePadding":8,"titleLineHeight":18},
"legend":{"orient":"none","legendX":1025,"legendY":296,"symbolSize":841,"symbolStrokeWidth":0,"clipHeight":16,"rowPadding":4.7,"padding":4,"labelOffset":9,"labelFontSize":14,"labelFont":"DejaVu Sans","labelColor":"#000000","strokeColor":"#cccccc","cornerRadius":3,"fillColor":"#ffffff"}
}
}
